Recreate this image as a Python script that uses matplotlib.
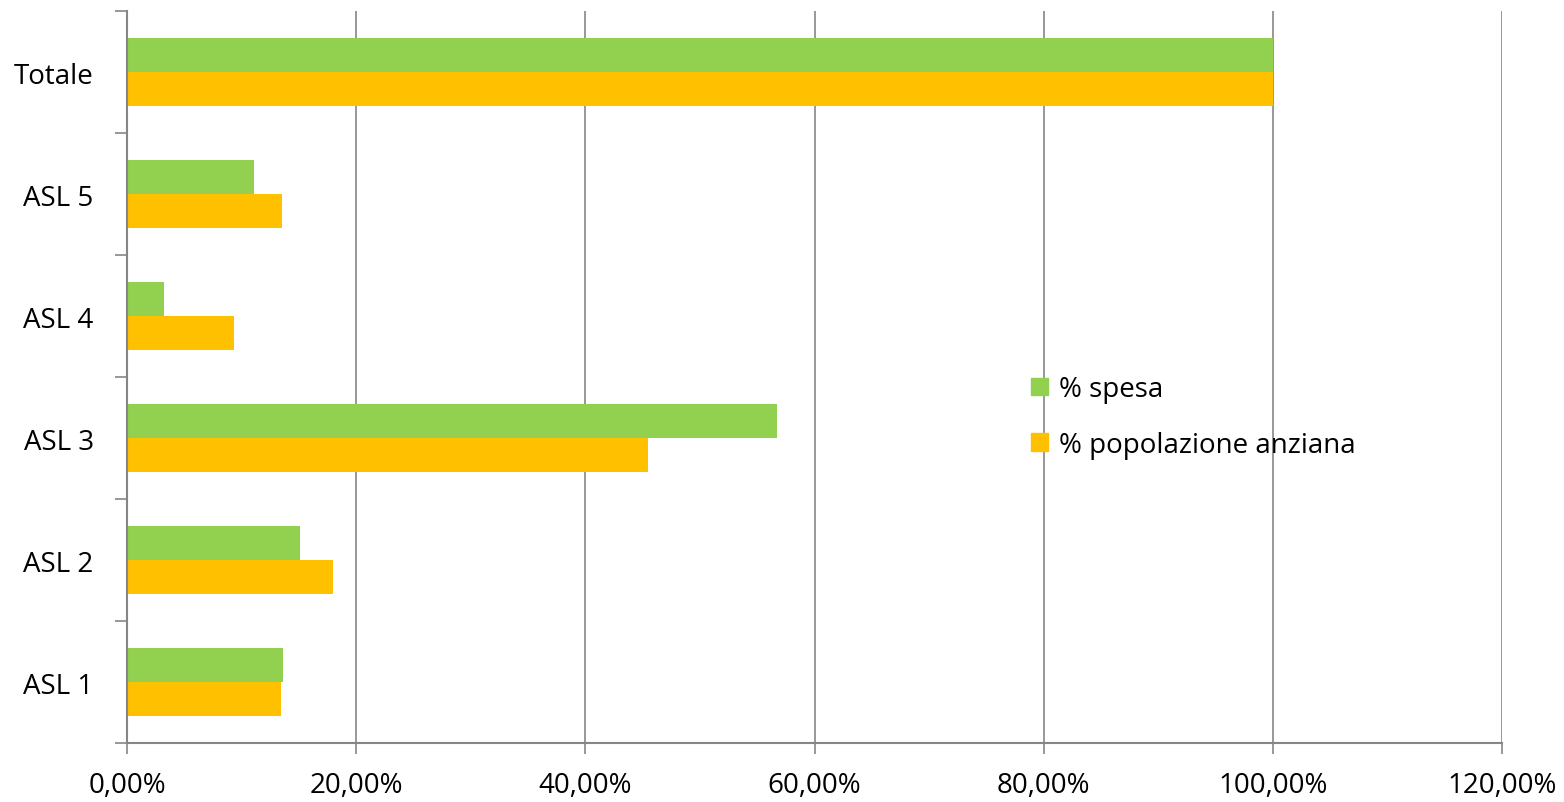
import numpy as np
import matplotlib
matplotlib.use("Agg")
import matplotlib.pyplot as plt
from matplotlib.patches import Patch
from matplotlib.ticker import FuncFormatter, MultipleLocator

categories = ["ASL 1", "ASL 2", "ASL 3", "ASL 4", "ASL 5", "Totale"]
spesa = [13.6, 15.1, 56.7, 3.2, 11.1, 100.0]
popolazione = [13.4, 18.0, 45.5, 9.3, 13.5, 100.0]

GREEN = "#92D050"
ORANGE = "#FFC000"
GRID = "#868686"

plt.rcParams["font.family"] = ["Open Sans", "DejaVu Sans"]

fig = plt.figure(figsize=(15.64, 8.03), dpi=100)
ax = fig.add_axes([127 / 1564, 1 - 744 / 803, (1502 - 127) / 1564, (744 - 12) / 803])

y = np.arange(len(categories))
h = 0.28
ax.barh(y + h / 2, spesa, height=h, color=GREEN, zorder=3)
ax.barh(y - h / 2, popolazione, height=h, color=ORANGE, zorder=3)

ax.set_xlim(0, 120)
ax.set_ylim(-0.5, len(categories) - 0.5)
ax.xaxis.set_major_locator(MultipleLocator(20))
ax.xaxis.set_major_formatter(FuncFormatter(lambda v, p: f"{v:.2f}%".replace(".", ",")))
ax.grid(axis="x", color=GRID, linewidth=1.2, zorder=0)

ax.set_yticks(y)
ax.set_yticklabels(categories)
ax.set_yticks(np.arange(-0.5, len(categories)), minor=True)
ax.tick_params(axis="y", which="major", length=0, pad=24, labelsize=20)
ax.tick_params(axis="y", which="minor", length=9, width=1.2, color=GRID, direction="out")
ax.tick_params(axis="x", length=8, width=1.2, color=GRID, labelsize=20, pad=12)

for s in ["top", "right"]:
    ax.spines[s].set_visible(False)
for s in ["left", "bottom"]:
    ax.spines[s].set_color(GRID)
    ax.spines[s].set_linewidth(1.5)
    ax.spines[s].set_zorder(4)

handles = [Patch(color=GREEN, label="% spesa"), Patch(color=ORANGE, label="% popolazione anziana")]
fig.legend(handles=handles, loc="center left", bbox_to_anchor=(1006 / 1564, 1 - 418 / 803),
           frameon=False, fontsize=20, handlelength=0.6, handleheight=0.6,
           handletextpad=0.4, labelspacing=1.0)

fig.savefig("out.png", dpi=100)
